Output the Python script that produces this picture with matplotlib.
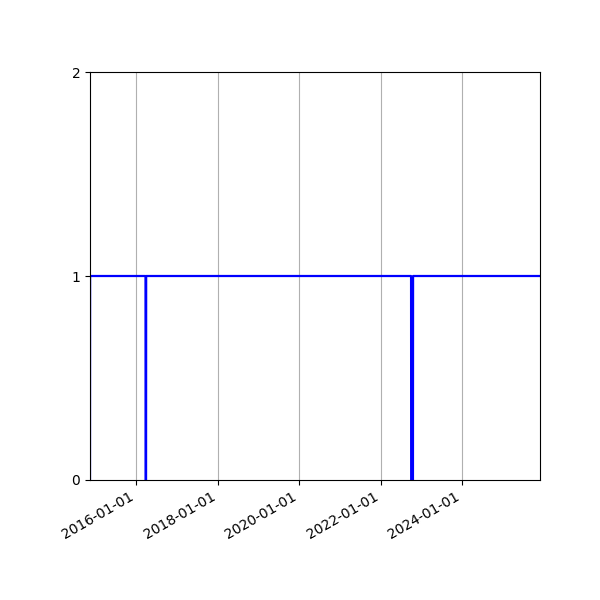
import numpy as np
import matplotlib
matplotlib.use("Agg")
import matplotlib.pyplot as plt
import matplotlib.dates as mdates

# step series: 1 most of the time, drops to 0 on a few dates
dates = ["2014-11-11", "2014-11-12",
         "2016-03-23", "2016-03-24", "2016-03-28", "2016-03-29",
         "2022-10-01", "2022-10-02", "2022-10-18", "2022-10-19",
         "2025-12-01"]
values = [0, 1,
          1, 0, 0, 1,
          1, 0, 0, 1,
          1]

x = np.array(dates, dtype="datetime64[D]")

fig, ax = plt.subplots(figsize=(6, 6), dpi=100)
ax.plot(x, values, color="blue", lw=1.6)

ax.set_xlim(x[0], x[-1])
ax.set_ylim(0, 2)
ax.set_yticks([0, 1, 2])
ax.xaxis.set_major_locator(mdates.YearLocator(2))
ax.xaxis.set_major_formatter(mdates.DateFormatter("%Y-%m-%d"))
ax.grid(True, axis="x")

fig.autofmt_xdate()
fig.subplots_adjust(left=0.15, right=0.9, top=0.88, bottom=0.2)
fig.savefig("out.png")
